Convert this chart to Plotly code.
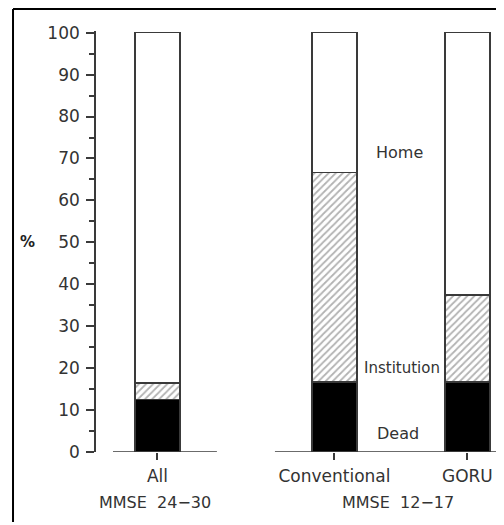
import plotly.graph_objects as go

categories = ["All", "Conventional", "GORU"]
dead = [12.5, 16.7, 16.7]
institution = [4.0, 50.0, 20.8]
home = [83.5, 33.3, 62.5]
group_labels = ["MMSE\u00a0\u00a024\u221230", "MMSE\u00a0\u00a012\u221217"]
y_ticks = [0, 10, 20, 30, 40, 50, 60, 70, 80, 90, 100]

# layout positions (not data)
x_pos = [0.0, 1.0, 1.751]
bar_w = 0.254
FONT = "DejaVu Sans"
TXT = "#333333"
LINE = "#3a3a3a"

fig = go.Figure()
fig.add_trace(go.Bar(y=dead, marker=dict(color="black", line=dict(color=LINE, width=1.6)),
                     x=x_pos, width=[bar_w] * 3, showlegend=False))
fig.add_trace(go.Bar(y=institution,
                     marker=dict(color="white", line=dict(color=LINE, width=1.6),
                                 pattern=dict(shape="/", fgcolor="#666666", bgcolor="white",
                                              size=5, solidity=0.35)),
                     x=x_pos, width=[bar_w] * 3, showlegend=False))
fig.add_trace(go.Bar(y=home, marker=dict(color="white", line=dict(color=LINE, width=1.6)),
                     x=x_pos, width=[bar_w] * 3, showlegend=False))

# page body has an 8px margin: figure is 496x517, placed at (8, 8)
fig.update_layout(
    barmode="stack",
    width=496, height=517,
    margin=dict(l=88, r=0, t=23, b=73),
    paper_bgcolor="white", plot_bgcolor="white",
    font=dict(family=FONT, size=16, color=TXT),
    xaxis=dict(range=[-0.347, 1.958], showline=False, showgrid=False, zeroline=False,
               tickmode="array", tickvals=x_pos, ticktext=categories,
               ticks="outside", ticklen=7, tickwidth=1.5, tickcolor=LINE,
               ticklabelstandoff=2, tickfont=dict(family=FONT, size=17, color=TXT)),
    yaxis=dict(range=[0, 100.4], showline=True, linecolor=LINE, linewidth=1.6,
               showgrid=False, zeroline=False,
               tickmode="array", tickvals=y_ticks,
               ticks="outside", ticklen=8, tickwidth=1.5, tickcolor=LINE,
               ticklabelstandoff=3, tickfont=dict(family=FONT, size=17, color=TXT),
               minor=dict(tickmode="array", tickvals=[v + 5 for v in y_ticks[:-1]],
                          ticks="outside", ticklen=5, tickwidth=1.5, tickcolor=LINE)),
)

# baseline segments
fig.add_shape(type="line", xref="x", yref="y", x0=-0.251, x1=0.336, y0=0, y1=0,
              line=dict(color=LINE, width=1.6))
fig.add_shape(type="line", xref="x", yref="y", x0=0.664, x1=1.958, y0=0, y1=0,
              line=dict(color=LINE, width=1.6))

# frame lines (top and left)
fig.add_shape(type="line", xref="paper", yref="paper", x0=-0.2034, x1=1.0, y0=1.0523, y1=1.0523,
              line=dict(color="black", width=2))
fig.add_shape(type="line", xref="paper", yref="paper", x0=-0.2034, x1=-0.2034, y0=1.0523, y1=-0.166,
              line=dict(color="black", width=2))

# segment labels
for txt, xx, yy, fs in [("Home", 1.370, 71.4, 16), ("Institution", 1.380, 20.0, 15),
                        ("Dead", 1.359, 4.5, 16)]:
    fig.add_annotation(x=xx, y=yy, xref="x", yref="y", text=txt, showarrow=False,
                       xanchor="center", yanchor="middle",
                       font=dict(family=FONT, size=fs, color=TXT))

# group labels
fig.add_annotation(x=-0.014, y=-0.12, xref="x", yref="paper", text=group_labels[0],
                   showarrow=False, xanchor="center", yanchor="middle",
                   font=dict(family=FONT, size=16, color=TXT))
fig.add_annotation(x=1.359, y=-0.12, xref="x", yref="paper", text=group_labels[1],
                   showarrow=False, xanchor="center", yanchor="middle",
                   font=dict(family=FONT, size=16, color=TXT))

# % label
fig.add_annotation(x=-0.169, y=0.498, xref="paper", yref="paper", text="<b>%</b>", showarrow=False,
                   xanchor="center", yanchor="middle",
                   font=dict(family=FONT, size=15, color="#222222"))

fig.write_html("out.html")
